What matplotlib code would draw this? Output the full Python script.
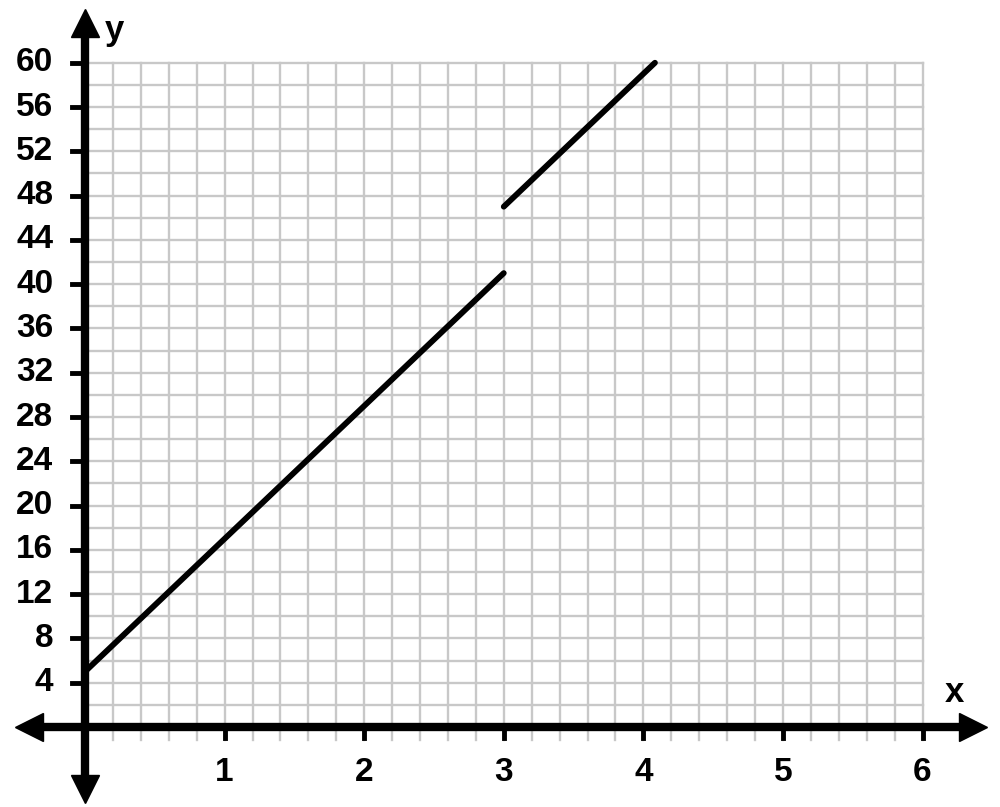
"""
plot.py

Piecewise linear function with a jump at x = 3, drawn on graph paper.
"""

import numpy as np
import matplotlib.pyplot as plt

# --- data ---------------------------------------------------------------------
x_ticks = [1, 2, 3, 4, 5, 6]
y_ticks = [4, 8, 12, 16, 20, 24, 28, 32, 36, 40, 44, 48, 52, 56, 60]

seg1_x = [0, 3]
seg1_y = [5, 41]
seg2_x = [3, 4.083]
seg2_y = [47, 60]

# --- figure -------------------------------------------------------------------
plt.rcParams['font.family'] = ['Liberation Sans', 'DejaVu Sans']

fig = plt.figure(figsize=(10, 8.07), dpi=100)
ax = fig.add_axes([0, 0, 1, 1])
ax.set_xlim(-0.609, 6.555)
ax.set_ylim(-7.23, 65.67)
ax.axis('off')

grid_c = '#c8c8c8'
# vertical grid lines every 0.2, slightly past the x axis
for gx in np.arange(0.2, 6.01, 0.2):
    ax.plot([gx, gx], [-1.15, 60], color=grid_c, lw=1.7, zorder=1)
# horizontal grid lines every 2
for gy in np.arange(2, 60.1, 2):
    ax.plot([0, 6], [gy, gy], color=grid_c, lw=1.7, zorder=1)

# --- axes with arrows ---------------------------------------------------------
ax.plot([-0.37, 6.33], [0, 0], color='black', lw=6, zorder=3)
ax.plot([0, 0], [-5.3, 63.2], color='black', lw=6, zorder=3)
ax.plot([-0.4], [0], marker='<', ms=20, color='black', zorder=4)
ax.plot([6.36], [0], marker='>', ms=20, color='black', zorder=4)
ax.plot([0], [63.6], marker='^', ms=20, color='black', zorder=4)
ax.plot([0], [-5.6], marker='v', ms=20, color='black', zorder=4)

# tick marks and labels
for t in x_ticks:
    ax.plot([t, t], [0, -1.0], color='black', lw=3.5, zorder=3)
    ax.text(t, -4.1, str(t), ha='center', va='center', fontsize=24,
            fontweight='bold')
for t in y_ticks:
    ax.plot([-0.095, 0], [t, t], color='black', lw=3.5, zorder=3)
    ax.text(-0.228, t, str(t), ha='right', va='center', fontsize=24,
            fontweight='bold')

ax.text(0.21, 62.9, 'y', ha='center', va='center', fontsize=25, fontweight='bold')
ax.text(6.23, 3.1, 'x', ha='center', va='center', fontsize=25, fontweight='bold')

# --- function -----------------------------------------------------------------
ax.plot(seg1_x, seg1_y, color='black', lw=4.2, solid_capstyle='round', zorder=5)
ax.plot(seg2_x, seg2_y, color='black', lw=4.2, solid_capstyle='round', zorder=5)

fig.savefig('out.png', dpi=100)
